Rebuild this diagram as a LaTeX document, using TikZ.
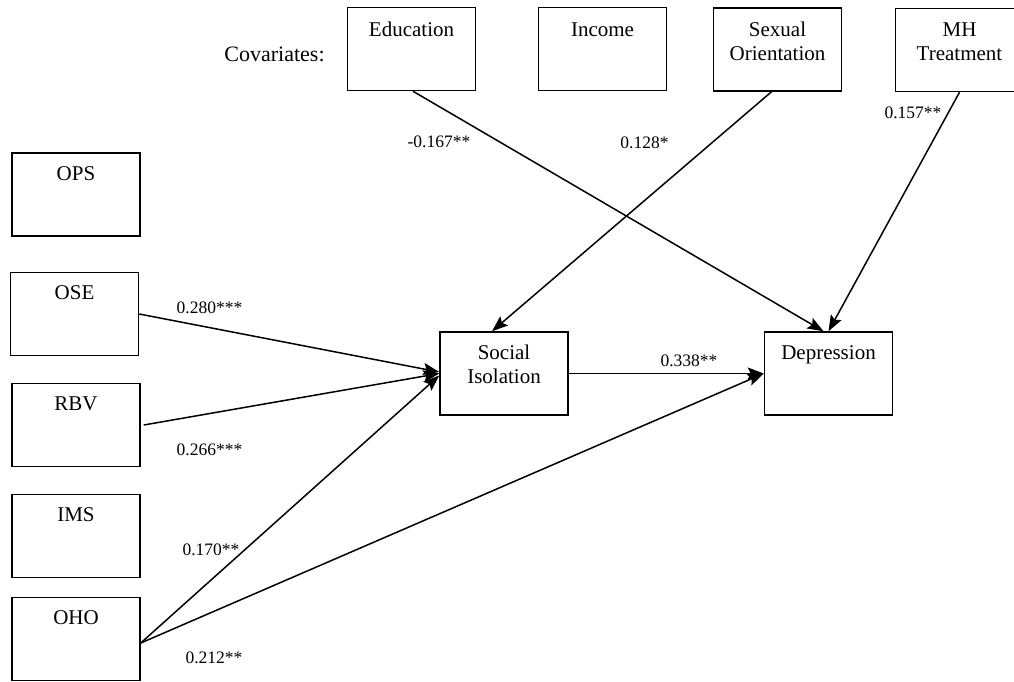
\documentclass[tikz,border=0pt]{standalone}
\usepackage{fontspec}
\setmainfont{Liberation Serif}
\usetikzlibrary{arrows.meta}
\begin{document}
\begin{tikzpicture}[x=1pt,y=-1pt,
  box/.style={draw, line width=1.5pt, minimum width=128pt, minimum height=83pt, inner sep=0pt},
  boxtext/.style={anchor=north, inner sep=0pt, align=center, font=\fontsize{21}{24}\selectfont},
  coef/.style={font=\fontsize{17.5}{20}\selectfont, inner sep=0pt},
  conn/.style={line width=1.5pt, -{Stealth[length=16pt,width=12pt,inset=3pt]}}
]
\useasboundingbox (0,0) rectangle (1014,681);
% boxes
\node[box] (edu) at (411.5,49) {};
\node[box] (inc) at (602.5,49) {};
\node[box] (sex) at (777.5,49.5) {};
\node[box] (mh) at (959.5,50) {};
\node[box] (ops) at (76,194.5) {};
\node[box] (ose) at (74.5,314) {};
\node[box] (rbv) at (76,425) {};
\node[box] (ims) at (76,536) {};
\node[box] (oho) at (76,639) {};
\node[box] (si) at (504,373.5) {};
\node[box] (dep) at (828.5,373.5) {};
% box texts
\node[boxtext] (tedu) at ([yshift=-13pt]edu.north) {\strut Education};
\node[boxtext] (tinc) at ([yshift=-13pt]inc.north) {\strut Income};
\node[boxtext] (tsex) at ([yshift=-12pt]sex.north) {\strut Sexual\\Orientation};
\node[boxtext] (tmh) at ([yshift=-12pt]mh.north) {\strut MH\\Treatment};
\node[boxtext] (tops) at ([yshift=-11pt]ops.north) {\strut OPS};
\node[boxtext] (tose) at ([yshift=-11pt]ose.north) {\strut OSE};
\node[boxtext] (trbv) at ([yshift=-11pt]rbv.north) {\strut RBV};
\node[boxtext] (tims) at ([yshift=-11pt]ims.north) {\strut IMS};
\node[boxtext] (toho) at ([yshift=-11pt]oho.north) {\strut OHO};
\node[boxtext] (tsi) at ([yshift=-11pt]si.north) {\strut Social\\Isolation};
\node[boxtext] (tdep) at ([yshift=-11pt]dep.north) {\strut Depression};
\node[inner sep=0pt, font=\fontsize{22}{24}\selectfont] (cov) at (274.5,54) {Covariates:};
% connectors
\draw[conn] ([xshift=1.5pt]edu.south) -- ([xshift=-5pt]dep.north);
\draw[conn] ([xshift=-6pt]sex.south) -- ([xshift=-12pt]si.north);
\draw[conn] (mh.south) -- (dep.north);
\draw[conn] (ose.east) -- ([yshift=1.5pt]si.west);
\draw[conn] ([xshift=3pt]rbv.east) -- (si.west);
\draw[conn] ([yshift=-4pt]oho.east) -- ([yshift=-2pt]si.west);
\draw[conn] ([yshift=-4pt]oho.east) -- (dep.west);
\draw[conn] (si.east) -- (dep.west);
% coefficients
\node[coef] (c1) at (439,142) {-0.167**};
\node[coef] (c2) at (644.5,143) {0.128*};
\node[coef] (c3) at (913,113) {0.157**};
\node[coef] (c4) at (209.5,308) {0.280***};
\node[coef] (c5) at (209.5,450) {0.266***};
\node[coef] (c6) at (211,550) {0.170**};
\node[coef] (c7) at (214,658) {0.212**};
\node[coef] (c8) at (689,361) {0.338**};
\end{tikzpicture}
\end{document}
